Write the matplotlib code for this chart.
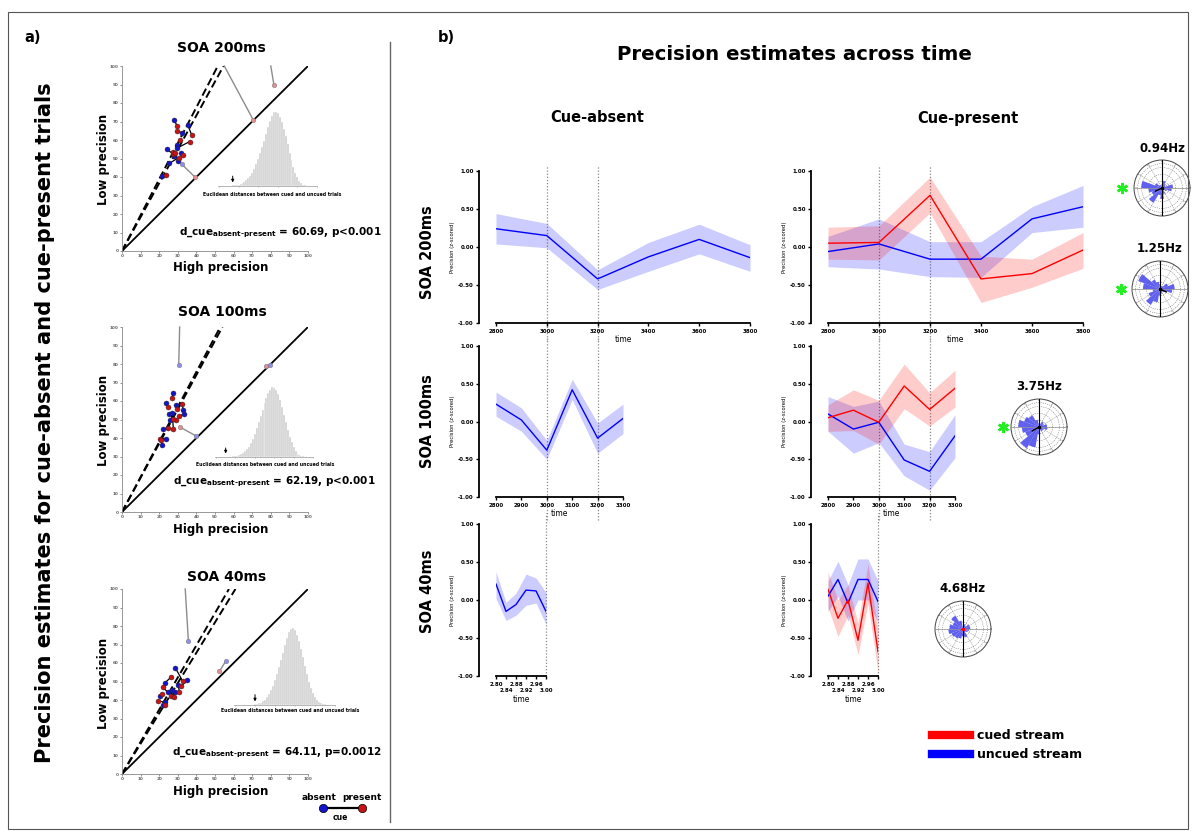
import matplotlib
matplotlib.use('Agg')
import matplotlib.pyplot as plt
import numpy as np
from matplotlib.lines import Line2D
from matplotlib.patches import Rectangle

plt.rcParams['font.family'] = ['DejaVu Sans']
plt.rcParams['font.weight'] = 'bold'
plt.rcParams['mathtext.fontset'] = 'custom'
plt.rcParams['mathtext.bf'] = 'DejaVu Sans:bold'
plt.rcParams['mathtext.rm'] = 'DejaVu Sans:bold'
plt.rcParams['mathtext.default'] = 'bf'

# ------------------------------------------------------------------ data
soa_titles = ['SOA 200ms', 'SOA 100ms', 'SOA 40ms']
stat_values = ['60.69, p<0.001', '62.19, p<0.001', '64.11, p=0.0012']

# panel a: per-subject precision (x = high precision, y = low precision)
s200_absent_x = [28.2, 35.4, 32.3, 29.8, 29.4, 24.2, 31.6, 28.0, 30.3, 25.5, 21.4]
s200_absent_y = [70.6, 67.9, 64.0, 57.1, 55.5, 55.0, 53.2, 51.2, 48.8, 47.4, 40.5]
s200_present_x = [29.6, 37.5, 29.4, 31.2, 36.3, 27.6, 32.7, 27.2, 28.5, 30.5, 23.7]
s200_present_y = [67.6, 62.7, 64.9, 60.0, 59.1, 52.3, 51.9, 53.5, 52.8, 50.5, 41.3]

s100_absent_x = [27.6, 23.7, 29.1, 33.0, 33.6, 25.1, 25.9, 22.3, 27.0, 23.7, 21.5]
s100_absent_y = [64.2, 59.0, 58.1, 55.4, 53.2, 53.2, 50.0, 44.6, 53.5, 39.7, 36.2]
s100_present_x = [26.9, 24.8, 29.8, 32.1, 30.9, 29.1, 27.3, 24.6, 27.6, 20.5, 21.0]
s100_present_y = [61.7, 56.5, 55.9, 58.5, 51.8, 49.6, 50.5, 45.5, 45.1, 39.6, 38.8]

s40_absent_x = [28.7, 35.0, 23.0, 30.2, 24.8, 28.7, 20.5, 23.3, 21.9, 27.0]
s40_absent_y = [57.3, 50.6, 49.2, 48.3, 44.1, 44.3, 42.0, 38.7, 37.1, 45.5]
s40_present_x = [32.7, 31.8, 26.4, 30.9, 21.9, 26.2, 21.4, 19.2, 23.3, 28.2]
s40_present_y = [50.1, 47.4, 52.4, 44.1, 46.8, 42.3, 43.2, 39.6, 37.1, 41.4]

# regression lines: x where the two lines reach y = 100
s200_fit_ends = [51.5, 54.6]
s100_fit_ends = [52.8, 54.0]
s40_fit_ends = [57.5, 61.0]

# projected (pale) points: start -> end, with colour of each end
s200_proj_x0 = [55.0, 80.0, 32.0]
s200_proj_y0 = [100.0, 100.0, 47.0]
s200_proj_x1 = [70.5, 81.7, 39.0]
s200_proj_y1 = [71.0, 89.7, 40.2]
s200_proj_c0 = [None, None, 'b']
s200_proj_c1 = ['r', 'r', 'r']

s100_proj_x0 = [31.0, 77.5, 31.0]
s100_proj_y0 = [100.0, 79.0, 46.0]
s100_proj_x1 = [30.5, 79.5, 40.0]
s100_proj_y1 = [79.5, 79.5, 41.0]
s100_proj_c0 = [None, 'r', 'r']
s100_proj_c1 = ['b', 'b', 'b']

s40_proj_x0 = [34.0, 52.4]
s40_proj_y0 = [100.0, 55.5]
s40_proj_x1 = [35.7, 55.7]
s40_proj_y1 = [71.7, 60.9]
s40_proj_c0 = [None, 'r']
s40_proj_c1 = ['b', 'b']

# permutation distributions (bar heights, 50 bins)
s200_hist = [0, 0, 0, 0, 0, 0, 0, 1, 1, 1, 2, 3, 4, 6, 8, 11, 14, 18, 23, 29,
             36, 44, 52, 61, 70, 79, 87, 94, 99, 100, 98, 93, 86, 77, 67, 56, 45, 35, 26, 18,
             12, 7, 4, 2, 1, 0, 0, 0, 0, 0]
s200_observed_bin = 7
s100_hist = [0, 0, 0, 0, 0, 0, 0, 0, 0, 1, 1, 2, 3, 4, 6, 8, 11, 15, 20, 26,
             33, 41, 50, 59, 68, 77, 85, 92, 97, 100, 99, 96, 90, 82, 72, 61, 50, 39, 29, 21,
             14, 9, 5, 3, 2, 1, 0, 0, 0, 0]
s100_observed_bin = 5
s40_hist = [0, 0, 0, 0, 0, 0, 0, 0, 0, 0, 1, 1, 2, 3, 5, 7, 10, 14, 19, 25,
            32, 40, 49, 58, 68, 78, 87, 94, 99, 100, 97, 91, 83, 73, 62, 51, 40, 30, 22, 15,
            10, 6, 4, 2, 1, 1, 0, 0, 0, 0]
s40_observed_bin = 10

# panel b: precision time courses
t_200 = [2800, 3000, 3200, 3400, 3600, 3800]
t_100 = [2800, 2900, 3000, 3100, 3200, 3300]
t_40 = [2.80, 2.84, 2.88, 2.92, 2.96, 3.00]
t_40_upper = [2.80, 2.88, 2.96]
t_40_lower = [2.84, 2.92, 3.00]

abs200_mean = [0.24, 0.15, -0.42, -0.13, 0.10, -0.14]
abs200_lo = [0.04, -0.01, -0.56, -0.32, -0.09, -0.32]
abs200_hi = [0.44, 0.31, -0.30, 0.06, 0.30, 0.03]
cued200_mean = [0.05, 0.06, 0.68, -0.42, -0.35, -0.04]
cued200_lo = [-0.16, -0.17, 0.45, -0.73, -0.53, -0.28]
cued200_hi = [0.26, 0.28, 0.92, -0.12, -0.16, 0.19]
uncued200_mean = [-0.06, 0.04, -0.16, -0.16, 0.37, 0.53]
uncued200_lo = [-0.26, -0.29, -0.39, -0.40, 0.19, 0.26]
uncued200_hi = [0.14, 0.37, 0.07, 0.07, 0.53, 0.81]

abs100_mean = [0.23, 0.02, -0.38, 0.42, -0.22, 0.04]
abs100_lo = [0.07, -0.13, -0.50, 0.29, -0.42, -0.16]
abs100_hi = [0.39, 0.18, -0.25, 0.56, -0.02, 0.23]
cued100_mean = [0.05, 0.15, -0.01, 0.47, 0.16, 0.44]
cued100_lo = [-0.13, -0.12, -0.30, 0.17, -0.06, 0.19]
cued100_hi = [0.22, 0.42, 0.28, 0.76, 0.38, 0.68]
uncued100_mean = [0.10, -0.10, -0.01, -0.51, -0.66, -0.19]
uncued100_lo = [-0.13, -0.42, -0.28, -0.72, -0.91, -0.48]
uncued100_hi = [0.33, 0.20, 0.27, -0.30, -0.40, 0.09]

abs40_mean = [0.21, -0.15, -0.06, 0.13, 0.12, -0.15]
abs40_lo = [0.02, -0.27, -0.20, -0.07, -0.04, -0.32]
abs40_hi = [0.37, -0.03, 0.09, 0.34, 0.29, 0.10]
cued40_mean = [0.14, -0.24, 0.00, -0.53, 0.22, -0.68]
cued40_lo = [-0.10, -0.48, -0.20, -0.72, -0.05, -0.95]
cued40_hi = [0.37, 0.00, 0.20, -0.30, 0.48, -0.40]
uncued40_mean = [0.05, 0.27, -0.04, 0.27, 0.27, -0.02]
uncued40_lo = [-0.15, 0.05, -0.28, 0.00, 0.00, -0.30]
uncued40_hi = [0.25, 0.51, 0.20, 0.54, 0.54, 0.25]

# rose plots: relative counts in 18 phase bins (centres 10, 30, ..., 350 deg)
phase_bins_deg = [10, 30, 50, 70, 90, 110, 130, 150, 170, 190, 210, 230, 250, 270, 290, 310, 330, 350]
rose_094 = [0.45, 0.15, 0.20, 0.30, 0.15, 0.10, 0.15, 0.30, 0.85, 0.55, 0.45, 0.70, 0.30, 0.45, 0.25, 0.10, 0.20, 0.40]
rose_125 = [0.60, 0.35, 0.15, 0.10, 0.20, 0.30, 0.45, 0.95, 0.70, 0.30, 0.50, 0.75, 0.55, 0.25, 0.20, 0.15, 0.20, 0.50]
rose_375 = [0.33, 0.20, 0.25, 0.15, 0.15, 0.30, 0.55, 0.65, 0.85, 0.70, 0.60, 1.00, 0.85, 0.30, 0.15, 0.20, 0.20, 0.35]
rose_468 = [0.30, 0.28, 0.15, 0.20, 0.10, 0.35, 0.63, 0.45, 0.55, 0.60, 0.50, 0.45, 0.40, 0.30, 0.35, 0.15, 0.20, 0.25]
rose_angle_labels = ['0', '30', '60', '90', '120', '150', '180', '210', '240', '270', '300', '330']
freq_labels = ['0.94Hz', '1.25Hz', '3.75Hz', '4.68Hz']
mean_vec_deg = [205, 335, 210, 200]
mean_vec_len = [0.30, 0.28, 0.32, 0.06]

# ------------------------------------------------------------------ figure
W, H = 1192, 831
fig = plt.figure(figsize=(W / 100, H / 100), dpi=100)


def rect(x0, y0, x1, y1):
    return [x0 / W, 1 - y1 / H, (x1 - x0) / W, (y1 - y0) / H]


def ftext(x, y, s, **kw):
    kw.setdefault('ha', 'center')
    kw.setdefault('va', 'center')
    kw.setdefault('fontweight', 'bold')
    return fig.text(x / W, 1 - y / H, s, **kw)


# frame and separator
fig.add_artist(Rectangle((8 / W, 1 - 829 / H), 1180 / W, 817 / H, transform=fig.transFigure,
                         fill=False, edgecolor='#555555', lw=0.8))
fig.add_artist(Line2D([390 / W, 390 / W], [1 - 42 / H, 1 - 822 / H], transform=fig.transFigure,
                      color='#666666', lw=1.0))

# ------------------------------------------------------------------ panel a
ftext(33, 38, 'a)', fontsize=10.5)
ftext(45, 423, 'Precision estimates for cue-absent and cue-present trials', fontsize=15.1, rotation=90)

BLUE_PT = '#1414c8'
RED_PT = '#c81414'
PALE = {'r': '#e09090', 'b': '#8e8ee6'}


def scatter_panel(box, title_xy, title, ax_x, ax_y, pr_x, pr_y, fit_ends,
                  px0, py0, px1, py1, pc0, pc1, hbox, hist, obs_bin, hlabel_xy,
                  stat, stat_xy, ylab_xy, xlab_xy):
    ax = fig.add_axes(rect(*box))
    ax.set_xlim(0, 100)
    ax.set_ylim(0, 100)
    ax.plot([0, 100], [0, 100], color='black', lw=1.3, zorder=2)
    for xe in fit_ends:
        ax.plot([0, xe], [0, 100], color='black', lw=1.4, dashes=(4, 2), zorder=2)
    for a, b, c, d, c0, c1 in zip(px0, py0, px1, py1, pc0, pc1):
        ax.plot([a, c], [b, d], color='#8c8c8c', lw=1.0, zorder=3, clip_on=False)
        if c0 is not None:
            ax.plot([a], [b], 'o', color=PALE[c0], ms=3.3, mec='#777777', mew=0.3, zorder=4)
        ax.plot([c], [d], 'o', color=PALE[c1], ms=3.3, mec='#777777', mew=0.3, zorder=4)
    for a, b, c, d in zip(ax_x, ax_y, pr_x, pr_y):
        ax.plot([a, c], [b, d], color='black', lw=0.9, zorder=3)
    ax.plot(ax_x, ax_y, 'o', color=BLUE_PT, ms=3.6, mec='#222222', mew=0.3, zorder=5)
    ax.plot(pr_x, pr_y, 'o', color=RED_PT, ms=3.6, mec='#222222', mew=0.3, zorder=5)
    ax.set_xticks(range(0, 101, 10))
    ax.set_yticks(range(0, 101, 10))
    ax.tick_params(labelsize=3, length=1.5, width=0.5, colors='#666666', pad=1)
    for s in ['top', 'right']:
        ax.spines[s].set_visible(False)
    for s in ['left', 'bottom']:
        ax.spines[s].set_color('#888888')
        ax.spines[s].set_linewidth(0.6)
    ax.patch.set_alpha(0)
    ftext(*title_xy, title, fontsize=10)
    ftext(*ylab_xy, 'Low precision', fontsize=8.5, rotation=90)
    ftext(*xlab_xy, 'High precision', fontsize=8.5)
    ftext(*stat_xy, r'd_cue$_{\mathbf{absent‐present}}$ = ' + stat, fontsize=7.5)

    hx = fig.add_axes(rect(*hbox))
    hx.bar(range(len(hist)), hist, width=1.0, color='#cfcfcf', edgecolor='white', linewidth=0.25)
    hx.set_xlim(-0.5, len(hist) - 0.5)
    hx.set_ylim(0, 105)
    hx.annotate('', xy=(obs_bin, 1), xytext=(obs_bin, 17),
                arrowprops=dict(arrowstyle='-|>', lw=0.7, color='black', mutation_scale=4))
    hx.set_xticks(range(0, 51, 10))
    hx.set_xticklabels([''] * 6)
    hx.set_yticks([])
    hx.tick_params(axis='x', length=1, width=0.4, colors='#888888')
    for s in ['top', 'right', 'left']:
        hx.spines[s].set_visible(False)
    hx.spines['bottom'].set_linewidth(0.5)
    hx.spines['bottom'].set_color('#999999')
    hx.patch.set_alpha(0)
    ftext(*hlabel_xy, 'Euclidean distances between cued and uncued trials', fontsize=3.3)


scatter_panel((122, 66, 308, 251), (221, 48), soa_titles[0],
              s200_absent_x, s200_absent_y, s200_present_x, s200_present_y, s200_fit_ends,
              s200_proj_x0, s200_proj_y0, s200_proj_x1, s200_proj_y1, s200_proj_c0, s200_proj_c1,
              (218, 108, 317, 186), s200_hist, s200_observed_bin, (272, 195),
              stat_values[0], (280, 233), (104, 159), (221, 268))
scatter_panel((122, 327, 308, 512), (222, 312), soa_titles[1],
              s100_absent_x, s100_absent_y, s100_present_x, s100_present_y, s100_fit_ends,
              s100_proj_x0, s100_proj_y0, s100_proj_x1, s100_proj_y1, s100_proj_c0, s100_proj_c1,
              (215, 384, 313, 457), s100_hist, s100_observed_bin, (265, 464),
              stat_values[1], (274, 482), (104, 420), (221, 530))
scatter_panel((122, 589, 308, 774), (227, 577), soa_titles[2],
              s40_absent_x, s40_absent_y, s40_present_x, s40_present_y, s40_fit_ends,
              s40_proj_x0, s40_proj_y0, s40_proj_x1, s40_proj_y1, s40_proj_c0, s40_proj_c1,
              (234, 624, 335, 705), s40_hist, s40_observed_bin, (290, 710),
              stat_values[2], (277, 753), (104, 683), (221, 791))

# absent / present legend
fig.add_artist(Line2D([323 / W, 362 / W], [1 - 808 / H, 1 - 808 / H], transform=fig.transFigure,
                      color='black', lw=1.6))
fig.add_artist(Line2D([323 / W], [1 - 808 / H], transform=fig.transFigure, marker='o',
                      color=BLUE_PT, ms=6, mec='black', mew=0.5, lw=0))
fig.add_artist(Line2D([362 / W], [1 - 808 / H], transform=fig.transFigure, marker='o',
                      color=RED_PT, ms=6, mec='black', mew=0.5, lw=0))
ftext(319, 798, 'absent', fontsize=6.5)
ftext(362, 797, 'present', fontsize=6.5)
ftext(340, 817, 'cue', fontsize=5.5)

# ------------------------------------------------------------------ panel b
ftext(446, 38, 'b)', fontsize=10.5)
ftext(794, 55, 'Precision estimates across time', fontsize=14.2)
ftext(597, 118, 'Cue-absent', fontsize=10.5)
ftext(968, 118, 'Cue-present', fontsize=10.5)
ftext(427, 252, soa_titles[0], fontsize=10.5, rotation=90)
ftext(427, 421, soa_titles[1], fontsize=10.5, rotation=90)
ftext(427, 591, soa_titles[2], fontsize=10.5, rotation=90)

BLUE = '#0000ff'
RED = '#ff0000'


def line_panel(box, t, series, vlines, vspan, staggered=False):
    ax = fig.add_axes(rect(*box))
    for mean, lo, hi, col in series:
        ax.fill_between(t, lo, hi, color=col, alpha=0.2, lw=0)
    for mean, lo, hi, col in series:
        ax.plot(t, mean, color=col, lw=1.0)
    for v in vlines:
        ax.axvline(v, ymin=vspan[0], ymax=vspan[1], color='#888888', lw=0.9,
                   ls=(0, (1, 1.5)), clip_on=False, zorder=0)
    ax.set_xlim(t[0], t[-1])
    ax.set_ylim(-1, 1)
    ax.set_yticks([-1, -0.5, 0, 0.5, 1])
    ax.set_yticklabels(['-1.00', '-0.50', '0.00', '0.50', '1.00'])
    if staggered:
        ax.set_xticks(t_40_upper)
        ax.set_xticklabels(['%.2f' % v for v in t_40_upper])
        ax.set_xticks(t_40_lower, minor=True)
        ax.set_xticklabels(['%.2f' % v for v in t_40_lower], minor=True)
        ax.tick_params(axis='x', which='minor', labelsize=4, length=2.5, width=1.0, pad=6.5)
    else:
        ax.set_xticks(t)
        ax.set_xticklabels([str(v) for v in t])
    ax.tick_params(which='major', labelsize=4, length=2.5, width=1.0, pad=1.5)
    for s in ['top', 'right']:
        ax.spines[s].set_visible(False)
    ax.spines['left'].set_position(('outward', 12))
    ax.spines['left'].set_linewidth(1.3)
    ax.spines['bottom'].set_linewidth(1.3)
    ax.set_ylabel('Precision (z-scored)', fontsize=3.8, labelpad=2)
    ax.set_xlabel('time', fontsize=5.5, labelpad=1)
    ax.patch.set_alpha(0)
    return ax


line_panel((496, 171, 750, 323), t_200, [(abs200_mean, abs200_lo, abs200_hi, BLUE)],
           [3000, 3200], (-0.11, 1.04))
line_panel((828, 171, 1083, 323), t_200,
           [(uncued200_mean, uncued200_lo, uncued200_hi, BLUE),
            (cued200_mean, cued200_lo, cued200_hi, RED)],
           [3000, 3200], (-0.11, 1.04))
line_panel((496, 346, 623, 497), t_100, [(abs100_mean, abs100_lo, abs100_hi, BLUE)],
           [3000, 3200], (-0.15, 1.05))
line_panel((828, 346, 955, 497), t_100,
           [(uncued100_mean, uncued100_lo, uncued100_hi, BLUE),
            (cued100_mean, cued100_lo, cued100_hi, RED)],
           [3000, 3200], (-0.15, 1.05))
line_panel((496, 524, 546, 676), t_40, [(abs40_mean, abs40_lo, abs40_hi, BLUE)],
           [3.00], (0.0, 1.07), staggered=True)
line_panel((828, 524, 878, 676), t_40,
           [(uncued40_mean, uncued40_lo, uncued40_hi, BLUE),
            (cued40_mean, cued40_lo, cued40_hi, RED)],
           [3.00], (0.0, 1.07), staggered=True)


def rose(cx, cy, r, label, counts, vec_deg, vec_len, vec_col, star_x=None):
    ax = fig.add_axes(rect(cx - r, cy - r, cx + r, cy + r), projection='polar')
    th = np.deg2rad(phase_bins_deg)
    ax.bar(th, counts, width=np.deg2rad(20), color='#5050ee', alpha=0.9, edgecolor='none', zorder=2)
    ax.set_ylim(0, 1.15)
    ax.set_yticks([0.28, 0.56, 0.84, 1.0])
    ax.set_yticklabels([])
    ang = np.deg2rad(range(0, 360, 30))
    ax.set_xticks(ang)
    ax.set_xticklabels([])
    ax.tick_params(axis='x', length=0)
    for a, s in zip(ang, rose_angle_labels):
        ax.text(a, 1.075, s, fontsize=1.5, color='#888888', ha='center', va='center', fontweight='normal')
    ax.grid(True, color='#777777', lw=0.4, ls=(0, (2, 2)))
    ax.spines['polar'].set_linewidth(0.7)
    ax.spines['polar'].set_color('#444444')
    ax.plot([np.pi / 2, np.pi / 2], [0, 1.15], color='black', lw=0.8, zorder=3)
    ax.plot([3 * np.pi / 2, 3 * np.pi / 2], [0, 1.15], color='black', lw=0.8, zorder=3)
    ax.plot([0, 0], [0, 1.15], color='#999999', lw=0.5, zorder=3)
    ax.plot([np.pi, np.pi], [0, 1.15], color='#999999', lw=0.5, zorder=3)
    ax.plot([np.deg2rad(vec_deg)] * 2, [0, vec_len], color=vec_col, lw=1.0, zorder=4)
    ax.plot([0], [0], 'o', color=vec_col, ms=1.5, zorder=5)
    ftext(cx, cy - r - 12, label, fontsize=8.5)
    if star_x is not None:
        fig.add_artist(Line2D([star_x / W], [1 - cy / H], transform=fig.transFigure,
                              marker=(6, 2, 0), ms=8, mew=1.8, color='#22ee22', lw=0))


rose(1162, 188, 28, freq_labels[0], rose_094, mean_vec_deg[0], mean_vec_len[0], 'black', 1122)
rose(1160, 289, 28, freq_labels[1], rose_125, mean_vec_deg[1], mean_vec_len[1], 'black', 1121)
rose(1039, 427, 28, freq_labels[2], rose_375, mean_vec_deg[2], mean_vec_len[2], 'black', 1003)
rose(963, 629, 28, freq_labels[3], rose_468, mean_vec_deg[3], mean_vec_len[3], 'red', None)

# stream legend
handles = [Line2D([], [], color=RED, lw=6), Line2D([], [], color=BLUE, lw=6)]
fig.legend(handles, ['cued stream', 'uncued stream'], loc='upper left',
           bbox_to_anchor=(932 / W, 1 - 729 / H), frameon=False,
           prop={'size': 9, 'weight': 'bold'}, handlelength=3.0, handletextpad=0.6,
           labelspacing=0.5, borderpad=0, borderaxespad=0)

fig.savefig('out.png', dpi=100)
